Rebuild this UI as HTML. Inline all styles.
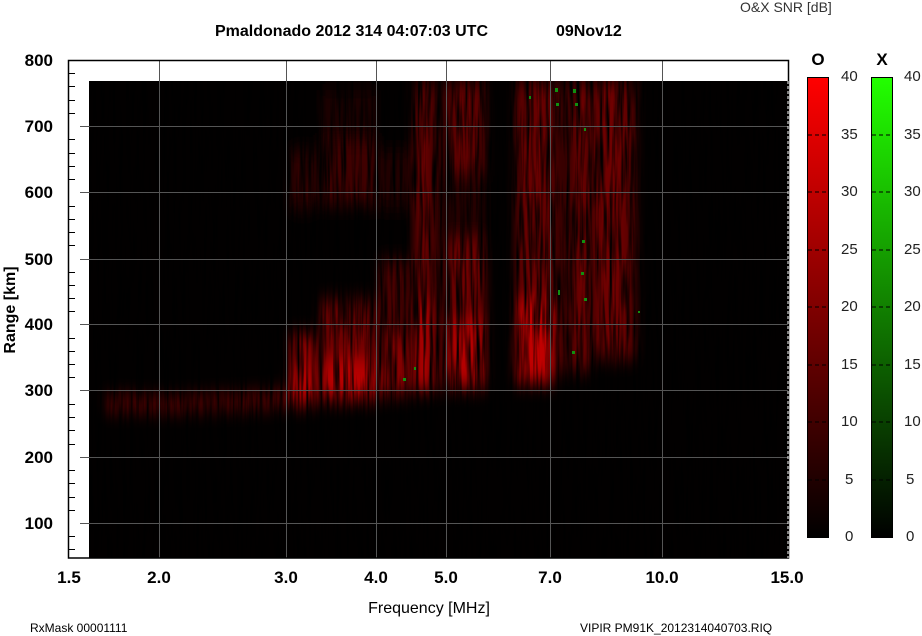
<!DOCTYPE html>
<html><head><meta charset="utf-8"><style>
html,body{margin:0;padding:0;background:#fff;}
svg{display:block;font-family:"Liberation Sans",Arial,sans-serif;}
</style></head><body>
<svg width="922" height="636" viewBox="0 0 922 636" xmlns="http://www.w3.org/2000/svg">
<defs>
<linearGradient id="cbR" x1="0" y1="1" x2="0" y2="0"><stop offset="0" stop-color="#000"/><stop offset="1" stop-color="#ff0000"/></linearGradient>
<linearGradient id="cbG" x1="0" y1="1" x2="0" y2="0"><stop offset="0" stop-color="#000"/><stop offset="1" stop-color="#22ff00"/></linearGradient>
<filter id="bl" x="-20%" y="-20%" width="140%" height="140%"><feGaussianBlur stdDeviation="5 9"/></filter>
<filter id="streak" x="0" y="0" width="100%" height="100%">
<feTurbulence type="fractalNoise" baseFrequency="0.3 0.015" numOctaves="2" seed="3" result="n"/>
<feColorMatrix in="n" type="matrix" values="0 0 0 0 0  0 0 0 0 0  0 0 0 0 0  0 0 0 -2.4 1.5" />
</filter>
<clipPath id="dc"><rect x="89" y="81" width="699" height="477"/></clipPath>
</defs>
<rect x="89" y="81" width="699" height="477" fill="#020000"/>
<g clip-path="url(#dc)">
<g filter="url(#bl)">
<polygon points="105,397 180,398 250,395 290,391 290,404 250,408 180,410 105,410" fill="#700000"/>
<rect x="290" y="335" width="26" height="70" fill="#900000"/>
<rect x="290" y="150" width="26" height="60" fill="#300000"/>
<rect x="290" y="368" width="26" height="32" fill="#b80000"/>
<rect x="321" y="300" width="55" height="100" fill="#700000"/>
<rect x="321" y="360" width="55" height="40" fill="#b80000"/>
<rect x="321" y="140" width="55" height="65" fill="#400000"/>
<rect x="321" y="90" width="55" height="50" fill="#1a0000"/>
<rect x="379" y="150" width="30" height="60" fill="#220000"/>
<rect x="379" y="260" width="30" height="135" fill="#4a0000"/>
<rect x="379" y="340" width="30" height="55" fill="#880000"/>
<rect x="414" y="81" width="18" height="310" fill="#6a0000"/>
<rect x="414" y="300" width="18" height="90" fill="#b00000"/>
<rect x="434" y="81" width="9" height="310" fill="#300000"/>
<rect x="447" y="81" width="38" height="95" fill="#600000"/>
<rect x="447" y="180" width="38" height="60" fill="#280000"/>
<rect x="447" y="240" width="38" height="148" fill="#700000"/>
<rect x="447" y="320" width="38" height="66" fill="#b40000"/>
<rect x="516" y="81" width="38" height="302" fill="#680000"/>
<rect x="516" y="300" width="38" height="82" fill="#c00000"/>
<rect x="556" y="81" width="14" height="290" fill="#3a0000"/>
<rect x="573" y="81" width="15" height="290" fill="#780000"/>
<rect x="591" y="81" width="45" height="278" fill="#5a0000"/>
<rect x="598" y="81" width="26" height="278" fill="#700000"/>
</g>
<rect x="89" y="81" width="699" height="477" filter="url(#streak)"/>
<g fill="#109010">
<rect x="555" y="88" width="3" height="4"/><rect x="573" y="89" width="3" height="4"/><rect x="556" y="103" width="3" height="3"/><rect x="575" y="103" width="3" height="3"/><rect x="582" y="240" width="3" height="3"/><rect x="581" y="272" width="3" height="3"/><rect x="584" y="298" width="3" height="3"/><rect x="558" y="290" width="2" height="5"/><rect x="414" y="367" width="2" height="3"/><rect x="403" y="378" width="3" height="3"/><rect x="572" y="351" width="3" height="3"/><rect x="638" y="311" width="2" height="2"/><rect x="529" y="96" width="2" height="3"/><rect x="584" y="128" width="2" height="3"/>
</g>
</g>
<g stroke="#555" stroke-width="1">
<line x1="159.5" y1="60" x2="159.5" y2="558"/><line x1="286.5" y1="60" x2="286.5" y2="558"/><line x1="376.5" y1="60" x2="376.5" y2="558"/><line x1="446.5" y1="60" x2="446.5" y2="558"/><line x1="550.5" y1="60" x2="550.5" y2="558"/><line x1="662.5" y1="60" x2="662.5" y2="558"/>
<line x1="80" y1="126.5" x2="788" y2="126.5"/><line x1="80" y1="192.5" x2="788" y2="192.5"/><line x1="80" y1="259.5" x2="788" y2="259.5"/><line x1="80" y1="324.5" x2="788" y2="324.5"/><line x1="80" y1="390.5" x2="788" y2="390.5"/><line x1="80" y1="457.5" x2="788" y2="457.5"/><line x1="80" y1="523.5" x2="788" y2="523.5"/>
</g>
<rect x="68.5" y="60.5" width="720" height="497.5" fill="none" stroke="#000" stroke-width="1.5"/>
<line x1="788" y1="81" x2="788" y2="558" stroke="#fff" stroke-dasharray="3 2"/>
<g stroke="#000" stroke-width="1">
<line x1="69" y1="73.5" x2="75" y2="73.5"/><line x1="69" y1="86.5" x2="75" y2="86.5"/><line x1="69" y1="100.5" x2="75" y2="100.5"/><line x1="69" y1="113.5" x2="75" y2="113.5"/>
<line x1="69" y1="139.5" x2="75" y2="139.5"/><line x1="69" y1="153.5" x2="75" y2="153.5"/><line x1="69" y1="166.5" x2="75" y2="166.5"/><line x1="69" y1="179.5" x2="75" y2="179.5"/>
<line x1="69" y1="206.5" x2="75" y2="206.5"/><line x1="69" y1="219.5" x2="75" y2="219.5"/><line x1="69" y1="232.5" x2="75" y2="232.5"/><line x1="69" y1="245.5" x2="75" y2="245.5"/>
<line x1="69" y1="272.5" x2="75" y2="272.5"/><line x1="69" y1="285.5" x2="75" y2="285.5"/><line x1="69" y1="298.5" x2="75" y2="298.5"/><line x1="69" y1="311.5" x2="75" y2="311.5"/>
<line x1="69" y1="338.5" x2="75" y2="338.5"/><line x1="69" y1="351.5" x2="75" y2="351.5"/><line x1="69" y1="364.5" x2="75" y2="364.5"/><line x1="69" y1="377.5" x2="75" y2="377.5"/>
<line x1="69" y1="404.5" x2="75" y2="404.5"/><line x1="69" y1="417.5" x2="75" y2="417.5"/><line x1="69" y1="430.5" x2="75" y2="430.5"/><line x1="69" y1="444.5" x2="75" y2="444.5"/>
<line x1="69" y1="470.5" x2="75" y2="470.5"/><line x1="69" y1="483.5" x2="75" y2="483.5"/><line x1="69" y1="497.5" x2="75" y2="497.5"/><line x1="69" y1="510.5" x2="75" y2="510.5"/>
<line x1="69" y1="536.5" x2="75" y2="536.5"/><line x1="69" y1="549.5" x2="75" y2="549.5"/>
</g>
<g font-size="17" font-weight="bold" text-anchor="end" fill="#000">
<text x="53" y="66">800</text><text x="53" y="132">700</text><text x="53" y="198">600</text><text x="53" y="265">500</text><text x="53" y="330">400</text><text x="53" y="396">300</text><text x="53" y="463">200</text><text x="53" y="529">100</text>
</g>
<text transform="translate(15,310) rotate(-90)" font-size="16" font-weight="bold" text-anchor="middle">Range [km]</text>
<g font-size="17" font-weight="bold" text-anchor="middle">
<text x="69" y="583">1.5</text><text x="159" y="583">2.0</text><text x="286" y="583">3.0</text><text x="376" y="583">4.0</text><text x="446" y="583">5.0</text><text x="550" y="583">7.0</text><text x="662" y="583">10.0</text><text x="787" y="583">15.0</text>
</g>
<text x="429" y="613" font-size="16" text-anchor="middle">Frequency [MHz]</text>
<text x="215" y="36" font-size="16" font-weight="bold">Pmaldonado 2012 314 04:07:03 UTC</text>
<text x="556" y="36" font-size="16" font-weight="bold">09Nov12</text>
<text x="740" y="12" font-size="14" fill="#333">O&amp;X SNR [dB]</text>
<text x="30" y="632" font-size="12">RxMask 00001111</text>
<text x="580" y="632" font-size="12">VIPIR  PM91K_2012314040703.RIQ</text>
<text x="818" y="65" font-size="17" font-weight="bold" text-anchor="middle">O</text>
<text x="882" y="65" font-size="17" font-weight="bold" text-anchor="middle">X</text>
<rect x="807.5" y="77.5" width="21" height="460" fill="url(#cbR)" stroke="#000"/>
<rect x="871.5" y="77.5" width="21" height="460" fill="url(#cbG)" stroke="#000"/>
<g stroke="#000" stroke-dasharray="4 3">
<line x1="808" y1="135" x2="828" y2="135"/><line x1="808" y1="192" x2="828" y2="192"/><line x1="808" y1="250" x2="828" y2="250"/><line x1="808" y1="307" x2="828" y2="307"/><line x1="808" y1="365" x2="828" y2="365"/><line x1="808" y1="422" x2="828" y2="422"/><line x1="808" y1="480" x2="828" y2="480"/>
<line x1="872" y1="135" x2="892" y2="135"/><line x1="872" y1="192" x2="892" y2="192"/><line x1="872" y1="250" x2="892" y2="250"/><line x1="872" y1="307" x2="892" y2="307"/><line x1="872" y1="365" x2="892" y2="365"/><line x1="872" y1="422" x2="892" y2="422"/><line x1="872" y1="480" x2="892" y2="480"/>
</g>
<g font-size="15" fill="#222">
<text x="841" y="81">40</text><text x="841" y="139">35</text><text x="841" y="196">30</text><text x="841" y="254">25</text><text x="841" y="311">20</text><text x="841" y="369">15</text><text x="841" y="426">10</text><text x="845" y="484">5</text><text x="845" y="541">0</text>
<text x="904" y="81">40</text><text x="904" y="139">35</text><text x="904" y="196">30</text><text x="904" y="254">25</text><text x="904" y="311">20</text><text x="904" y="369">15</text><text x="904" y="426">10</text><text x="906" y="484">5</text><text x="906" y="541">0</text>
</g>
</svg>
</body></html>
